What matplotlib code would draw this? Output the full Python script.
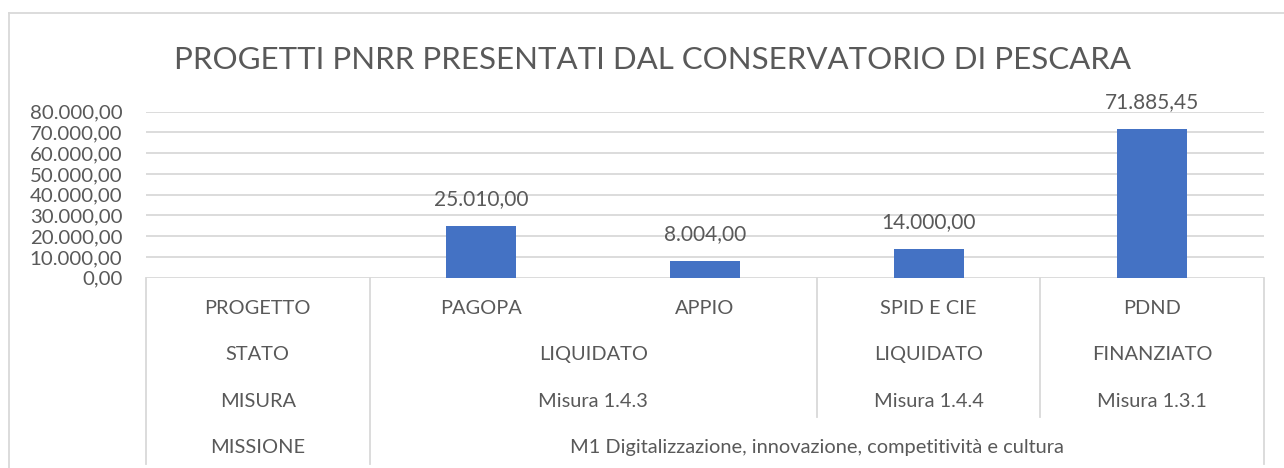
import matplotlib
matplotlib.use("Agg")
import matplotlib.pyplot as plt
import numpy as np
from matplotlib.lines import Line2D

plt.rcParams['font.family'] = ['Lato', 'DejaVu Sans']

# Chart data
title = "PROGETTI PNRR PRESENTATI DAL CONSERVATORIO DI PESCARA"
progetti = ["PROGETTO", "PAGOPA", "APPIO", "SPID E CIE", "PDND"]
valori = [np.nan, 25010.00, 8004.00, 14000.00, 71885.45]

# outer category levels: (label, first index, last index)
stato = [("STATO", 0, 0), ("LIQUIDATO", 1, 2), ("LIQUIDATO", 3, 3), ("FINANZIATO", 4, 4)]
misura = [("MISURA", 0, 0), ("Misura 1.4.3", 1, 2), ("Misura 1.4.4", 3, 3), ("Misura 1.3.1", 4, 4)]
missione = [("MISSIONE", 0, 0), ("M1 Digitalizzazione, innovazione, competitività e cultura", 1, 4)]

yticks = np.arange(0, 80001, 10000)

txt_col = "#595959"
grid_col = "#d9d9d9"
bar_col = "#4472C4"


def it_fmt(v):
    s = f"{v:,.2f}"
    return s.replace(",", "X").replace(".", ",").replace("X", ".")


W, H = 1284, 468
fig = plt.figure(figsize=(W / 100, H / 100), dpi=100)
ax = fig.add_axes([146 / W, 1 - 277.7 / H, 1118 / W, 166 / H])

x = np.arange(len(progetti))
bars = ax.bar(x, valori, width=0.313, color=bar_col, zorder=3)
for xi, v in zip(x, valori):
    if not np.isnan(v):
        ax.annotate(it_fmt(v), (xi, v), xytext=(0, 12), textcoords="offset points",
                    ha="center", va="bottom", fontsize=15, color=txt_col)

ax.set_xlim(-0.5, len(progetti) - 0.5)
ax.set_ylim(0, 80000)
ax.set_yticks(yticks)
ax.set_yticklabels([it_fmt(v) for v in yticks])
ax.tick_params(axis="y", length=0, pad=17, labelsize=14.7, labelcolor=txt_col)
ax.tick_params(axis="x", length=0, labelbottom=False)
ax.set_xticks([])
ax.yaxis.grid(True, color=grid_col, lw=1.3, zorder=0)
for s in ax.spines.values():
    s.set_visible(False)

# category table below the axis
tr = ax.get_xaxis_transform()
row_h = 46.5 / 166
levels = [[(p, i, i) for i, p in enumerate(progetti)], stato, misura, missione]
for r, lev in enumerate(levels):
    yc = -(r * row_h + 30.5 / 166)
    for lab, a, b in lev:
        ax.text((a + b) / 2, yc, lab, transform=tr, ha="center", va="center",
                fontsize=14.4, color=txt_col, clip_on=False)

# vertical separators: down to the deepest level where the boundary exists
n = len(progetti)
for bnd in range(n + 1):
    xb = bnd - 0.5
    if bnd in (0, n):
        depth = len(levels)
    else:
        depth = 0
        for r, lev in enumerate(levels[1:], start=2):
            if any(a == bnd for _, a, _b in lev):
                depth = r
    if depth:
        ax.add_line(Line2D([xb, xb], [0, -depth * row_h], transform=tr,
                           color=grid_col, lw=1.3, clip_on=False))

# chart frame
fig.add_artist(Line2D([9 / W, 9 / W], [0, 1 - 13 / H], transform=fig.transFigure, color=grid_col, lw=1.3))
fig.add_artist(Line2D([9 / W, 1], [1 - 13 / H, 1 - 13 / H], transform=fig.transFigure, color=grid_col, lw=1.3))

fig.text(653 / W, 1 - 60 / H, title, ha="center", va="center", fontsize=22.5,
         fontweight="normal", color=txt_col)

fig.savefig("out.png", dpi=100, facecolor="white")
